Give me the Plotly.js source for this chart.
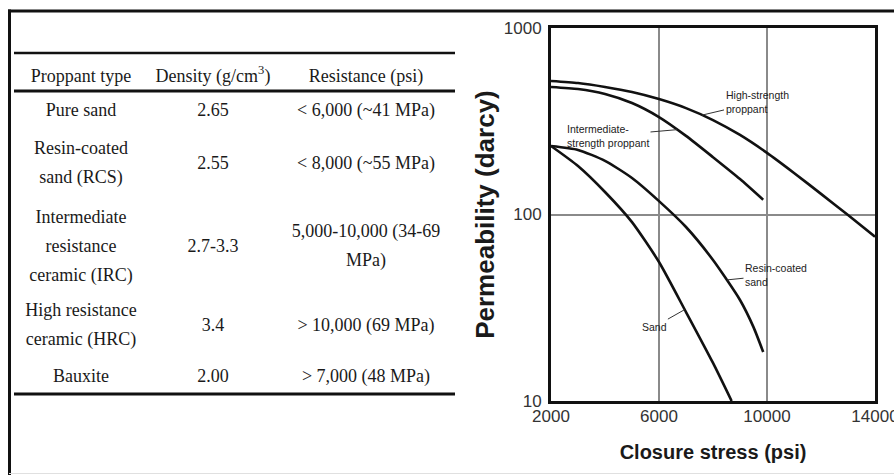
<!DOCTYPE html>
<html><head><meta charset="utf-8">
<script src="https://cdn.plot.ly/plotly-3.0.1.min.js"></script>
<style>html,body{margin:0;padding:0;background:#fff;} #chart{width:894px;height:475px;}</style>
</head><body><div id="chart"></div>
<script>
// ---- Table data ----
const tableHeaders = ["Proppant type", "Density (g/cm<sup>3</sup>)", "Resistance (psi)"];
const proppantType = ["Pure sand", "Resin-coated<br>sand (RCS)", "Intermediate<br>resistance<br>ceramic (IRC)", "High resistance<br>ceramic (HRC)", "Bauxite"];
const density = ["2.65", "2.55", "2.7-3.3", "3.4", "2.00"];
const resistance = ["< 6,000 (~41 MPa)", "< 8,000 (~55 MPa)", "5,000-10,000 (34-69<br>MPa)", "> 10,000 (69 MPa)", "> 7,000 (48 MPa)"];

// ---- Chart data (closure stress in psi, permeability in darcy) ----
const xTicks = [2000, 6000, 10000, 14000];
const yTicks = [10, 100, 1000];
const highStress = [2000, 3000, 4000, 5000, 6000, 7000, 8000, 9000, 10000, 11000, 12000, 13000, 14000];
const highPerm   = [520, 507, 483, 454, 416, 372, 321, 267, 214, 167, 129, 99.3, 76];
const interStress = [2000, 3000, 4000, 5000, 6000, 7000, 8000, 9000, 9860];
const interPerm   = [483, 471, 443, 396, 333, 264, 203, 155, 120];
const resinStress = [2000, 3000, 4000, 5000, 6000, 7000, 8000, 9000, 9500, 9860];
const resinPerm   = [233, 222, 194, 157, 118, 85.7, 57, 34.8, 24.9, 18.3];
const sandStress = [2000, 3000, 4000, 5000, 6000, 7000, 8000, 8690];
const sandPerm   = [233, 182, 132, 91, 55.6, 30, 16, 10];
const curveLabels = ["High-strength<br>proppant", "Intermediate-<br>strength proppant", "Resin-coated<br>sand", "Sand"];
const labelPointStress = [7593, 6667, 8519, 6950];
const labelPointPerm   = [341, 285, 44.6, 30.9];

// ---- Layout constants (positions / styles) ----
const W = 894, H = 475;
const colCenters = [81, 213, 366];
const headerY = 77;
const rowCenters = [111, 164, 247, 326, 377];
const lineGap = 29;
const labelOffsets = [[55, -13, 'left'], [-69, 6, 'left'], [49, -5, 'left'], [-30, 17, 'center']];

// build table text points
const tx = [], ty = [], tt = [];
tableHeaders.forEach((h, c) => { tx.push(colCenters[c]); ty.push(headerY); tt.push(h); });
const cols = [proppantType, density, resistance];
cols.forEach((col, c) => {
  col.forEach((cell, r) => {
    const lines = cell.split("<br>");
    const n = lines.length;
    lines.forEach((ln, k) => {
      tx.push(colCenters[c]);
      ty.push(rowCenters[r] + (k - (n - 1) / 2) * lineGap);
      tt.push(ln);
    });
  });
});

const curveLine = {color: '#111', width: 2.6, shape: 'spline', smoothing: 0.6};
const traces = [
  {x: highStress, y: highPerm, mode: 'lines', line: curveLine, xaxis: 'x', yaxis: 'y', hoverinfo: 'skip'},
  {x: interStress, y: interPerm, mode: 'lines', line: curveLine, xaxis: 'x', yaxis: 'y', hoverinfo: 'skip'},
  {x: resinStress, y: resinPerm, mode: 'lines', line: curveLine, xaxis: 'x', yaxis: 'y', hoverinfo: 'skip'},
  {x: sandStress, y: sandPerm, mode: 'lines', line: curveLine, xaxis: 'x', yaxis: 'y', hoverinfo: 'skip'},
  {x: tx, y: ty, text: tt, mode: 'text', textposition: 'middle center',
   textfont: {family: 'Liberation Serif, Times New Roman, serif', size: 18, color: '#1a1a1a'},
   xaxis: 'x2', yaxis: 'y2', hoverinfo: 'skip'}
];

const sans = 'Liberation Sans, Arial, sans-serif';
const rule = (y, w) => ({type: 'line', xref: 'x2', yref: 'y2', x0: 14, x1: 455, y0: y, y1: y, line: {color: '#111', width: w}, layer: 'above'});

const annotations = curveLabels.map((t, i) => ({
  x: labelPointStress[i], y: Math.log10(labelPointPerm[i]), xref: 'x', yref: 'y',
  text: t, showarrow: true, arrowhead: 0, arrowwidth: 1, arrowcolor: '#333',
  ax: labelOffsets[i][0], ay: labelOffsets[i][1], align: labelOffsets[i][2],
  font: {family: sans, size: 10.5, color: '#222'}, borderpad: 1
}));

const layout = {
  width: W, height: H,
  margin: {l: 0, r: 0, t: 0, b: 0},
  paper_bgcolor: '#fff', plot_bgcolor: 'rgba(0,0,0,0)',
  showlegend: false,
  xaxis: {
    domain: [551 / W, 875 / W], range: [2000, 14000], anchor: 'y',
    tickvals: xTicks, ticktext: xTicks.map(String), ticks: '', ticklabelstandoff: -2,
    showline: true, mirror: true, linewidth: 3, linecolor: '#111',
    showgrid: true, gridcolor: '#8a8a8a', gridwidth: 2, zeroline: false,
    tickfont: {family: sans, size: 17, color: '#333'}, ticklabeloverflow: 'allow',
    title: {text: 'Closure stress (psi)', standoff: 20, font: {family: sans, size: 20, color: '#1a1a1a', weight: 700}},
    fixedrange: true
  },
  yaxis: {
    type: 'log', domain: [(H - 401) / H, (H - 28) / H], range: [1, 3], anchor: 'x',
    tickvals: yTicks, ticktext: yTicks.map(String), ticks: '', ticklabelstandoff: 3,
    showline: true, mirror: true, linewidth: 3, linecolor: '#111',
    showgrid: true, gridcolor: '#8a8a8a', gridwidth: 2, zeroline: false,
    tickfont: {family: sans, size: 17, color: '#333'}, ticklabeloverflow: 'allow',
    title: {text: 'Permeability (darcy)', standoff: 2, font: {family: sans, size: 26, color: '#1a1a1a', weight: 700}},
    fixedrange: true
  },
  xaxis2: {domain: [0, 1], range: [0, W], anchor: 'y2', visible: false, fixedrange: true},
  yaxis2: {domain: [0, 1], range: [H, 0], anchor: 'x2', visible: false, fixedrange: true},
  shapes: [
    {type: 'line', xref: 'x2', yref: 'y2', x0: 8, x1: 900, y0: 11, y1: 11, line: {color: '#111', width: 3}},
    {type: 'line', xref: 'x2', yref: 'y2', x0: 9.5, x1: 9.5, y0: 9.5, y1: 480, line: {color: '#111', width: 3}},
    {type: 'line', xref: 'x2', yref: 'y2', x0: 9, x1: 900, y0: 473.5, y1: 473.5, line: {color: '#e0e0e0', width: 1}},
    rule(53, 2.5), rule(91, 3.2), rule(394, 3)
  ],
  annotations: annotations
};

Plotly.newPlot('chart', traces, layout, {staticPlot: true, displayModeBar: false});
</script>
</body></html>
